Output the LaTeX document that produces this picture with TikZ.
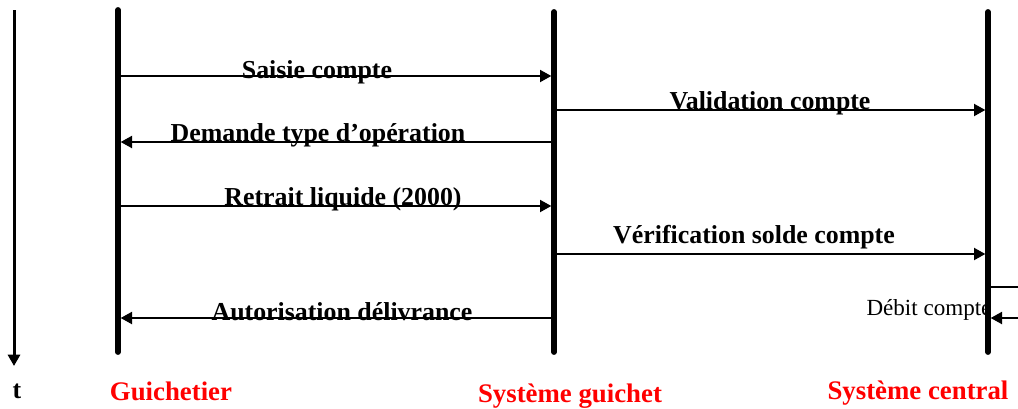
\documentclass[tikz,border=0pt]{standalone}
\usepackage{fontspec}
\setmainfont{Liberation Serif}
\usetikzlibrary{arrows.meta}
\begin{document}
\begin{tikzpicture}[x=0.75pt,y=-0.75pt,
  lifeline/.style={line width=4.4pt,line cap=round},
  msg/.style={line width=1.5pt,-{Triangle[length=8.5pt,width=9pt]},shorten >=2pt},
  plain/.style={line width=1.5pt},
  lbl/.style={font=\bfseries\fontsize{19.4}{22}\selectfont,anchor=base,inner sep=0pt},
  small/.style={font=\fontsize{17.3}{21}\selectfont,anchor=base,inner sep=0pt},
  actor/.style={font=\bfseries\fontsize{20.1}{24}\selectfont,text=red,anchor=base,inner sep=0pt}]
\useasboundingbox[fill=white] (0,0) rectangle (1018,408);
% time axis
\coordinate (t0) at (14,10);
\coordinate (t1) at (14,366);
\draw[line width=2.25pt,-{Triangle[length=8.5pt,width=9pt]}] (t0) -- (t1);
\node[lbl] (tl) at (17,398) {t};
% lifelines
\coordinate (g0) at (118,10); \coordinate (g1) at (118,352);
\coordinate (s0) at (554,12); \coordinate (s1) at (554,352);
\coordinate (c0) at (988,12); \coordinate (c1) at (988,352);
\draw[lifeline] (g0) -- (g1);
\draw[lifeline] (s0) -- (s1);
\draw[lifeline] (c0) -- (c1);
% message endpoints
\coordinate (gA) at (118,76);  \coordinate (sA) at (554,76);
\coordinate (sB) at (554,110); \coordinate (cB) at (988,110);
\coordinate (sC) at (554,142); \coordinate (gC) at (118,142);
\coordinate (gD) at (118,206); \coordinate (sD) at (554,206);
\coordinate (sE) at (554,254); \coordinate (cE) at (988,254);
\coordinate (sF) at (554,318); \coordinate (gF) at (118,318);
\coordinate (cG) at (988,287); \coordinate (eG) at (1018,287);
\coordinate (eH) at (1018,318); \coordinate (cH) at (988,318);
\draw[msg] (gA) -- (sA);
\draw[msg] (sB) -- (cB);
\draw[msg] (sC) -- (gC);
\draw[msg] (gD) -- (sD);
\draw[msg] (sE) -- (cE);
\draw[msg] (sF) -- (gF);
\draw[plain] (cG) -- (eG);
\draw[msg] (eH) -- (cH);
% labels
\node[lbl] (la) at (317,78) {Saisie compte};
\node[lbl] (lb) at (770,109) {Validation compte};
\node[lbl] (lc) at (318,141) {Demande type d’opération};
\node[lbl] (ld) at (343,205) {Retrait liquide (2000)};
\node[lbl] (le) at (754,243) {Vérification solde compte};
\node[lbl] (lf) at (342,320) {Autorisation délivrance};
\node[small] (lg) at (929,315) {Débit compte};
% actors
\node[actor] (ag) at (171,400) {Guichetier};
\node[actor] (as) at (570,402) {Système guichet};
\node[actor] (ac) at (918,399) {Système central};
\end{tikzpicture}
\end{document}
